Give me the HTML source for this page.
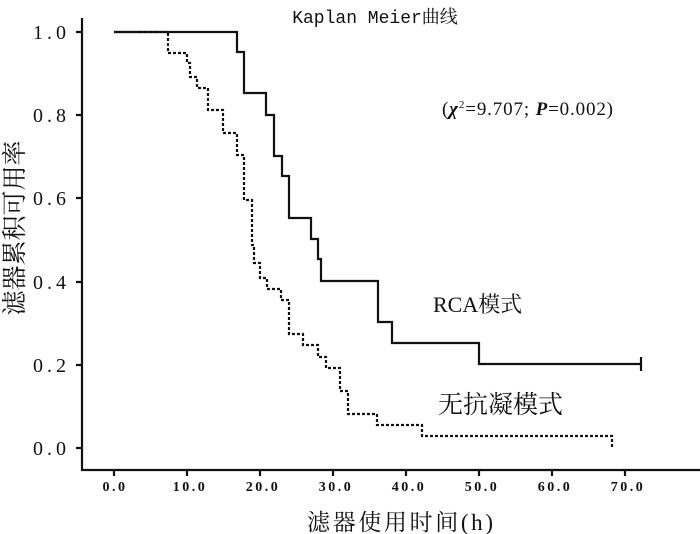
<!DOCTYPE html>
<html><head><meta charset="utf-8"><style>
html,body{margin:0;padding:0;background:#fff;width:700px;height:534px;overflow:hidden}
svg text{font-family:"Liberation Serif","Noto Serif CJK SC",serif;fill:#111}
svg .m{font-family:"Liberation Mono","Noto Serif CJK SC",monospace}
</style></head><body>
<svg width="700" height="534" viewBox="0 0 700 534" xmlns="http://www.w3.org/2000/svg">
<g stroke="#111" stroke-width="2.2" fill="none">
<path d="M82 18 V470 H700"/>
<path d="M82 32h-6M82 115h-6M82 198h-6M82 282h-6M82 365h-6M82 448h-6"/>
<path d="M114 470v6M187 470v6M260 470v6M333 470v6M406 470v6M479 470v6M552 470v6M625 470v6"/>
<path d="M114 32 H237 V52 H244 V93 H266 V115 H274 V156 H282 V176 H289 V218 H311 V239 H318 V259 H321 V281 H378 V322 H392 V343 H479 V364 H641"/>
<path d="M641 357 V371"/>
<path stroke-dasharray="3,2" d="M114 32 H168 V53 H187 V63 H190 V77 H197 V88 H208 V110 H223 V133 H237 V155 H244 V200 H252 V245 H254 V263 H260 V278 H267 V289 H281 V300 H289 V334 H303 V345 H318 V357 H326 V368 H340 V391 H348 V414 H377 V425 H422 V436 H612 V447"/>
</g>
<g font-size="20" letter-spacing="4">
<text x="33" y="39">1.0</text><text x="33" y="122">0.8</text><text x="33" y="205">0.6</text>
<text x="33" y="289">0.4</text><text x="33" y="372">0.2</text><text x="33" y="455">0.0</text>
</g>
<g font-size="14" text-anchor="middle" letter-spacing="2.5" font-weight="bold">
<text x="115" y="491">0.0</text><text x="190" y="491">10.0</text><text x="263" y="491">20.0</text>
<text x="336" y="491">30.0</text><text x="409" y="491">40.0</text><text x="482" y="491">50.0</text>
<text x="555" y="491">60.0</text><text x="628" y="491">70.0</text>
</g>
<text x="375" y="23" font-size="18" text-anchor="middle" class="m">Kaplan Meier曲线</text>
<text x="442" y="115" font-size="19" textLength="171">(<tspan font-style="italic" font-weight="bold">χ</tspan><tspan font-size="11" dy="-7">2</tspan><tspan dy="7">=9.707; </tspan><tspan font-style="italic" font-weight="bold">P</tspan>=0.002)</text>
<text x="433" y="312" font-size="22">RCA模式</text>
<text x="438" y="413" font-size="25">无抗凝模式</text>
<text x="307" y="530" font-size="23" textLength="186">滤器使用时间(h)</text>
<text transform="translate(23 228) rotate(-90)" font-size="25" text-anchor="middle">滤器累积可用率</text>
</svg>
</body></html>
